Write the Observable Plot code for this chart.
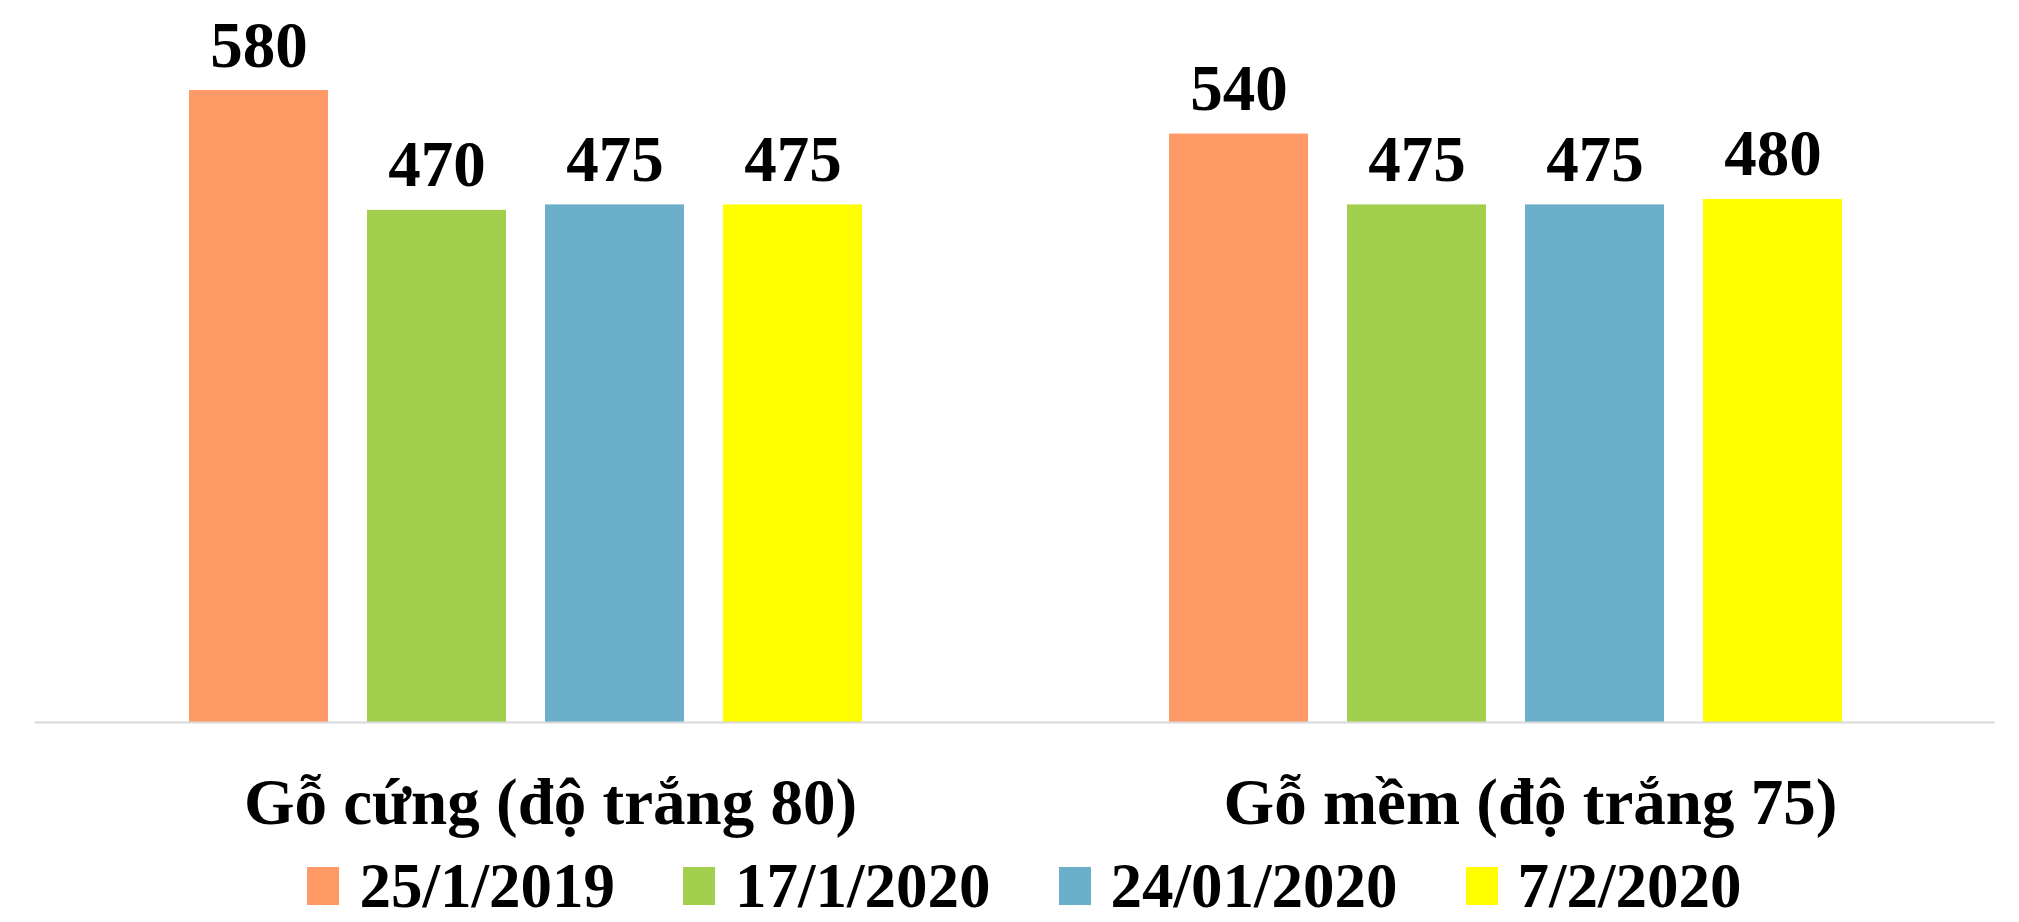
<!DOCTYPE html>
<html>
<head>
<meta charset="utf-8">
<script src="https://cdn.jsdelivr.net/npm/d3@7"></script>
<script src="https://cdn.jsdelivr.net/npm/@observablehq/plot@0.6"></script>
<style>
  html, body { margin: 0; padding: 0; background: #fff; }
  body { width: 2019px; height: 922px; overflow: hidden; font-family: "Liberation Serif", "Times New Roman", serif; }
  #legend { display: flex; justify-content: center; align-items: center; height: 72px; padding-left: 30px; }
  .item { display: flex; align-items: center; margin: 0 34px; }
  .sw { width: 32px; height: 38px; margin-right: 20px; }
  .lab { font-size: 63px; font-weight: bold; line-height: 1; color: #000; }
</style>
</head>
<body>
<div id="chart"></div>
<div id="legend"></div>
<script>
const categories = ["Gỗ cứng (độ trắng 80)", "Gỗ mềm (độ trắng 75)"];
const dates = ["25/1/2019", "17/1/2020", "24/01/2020", "7/2/2020"];
const hardwood = [580, 470, 475, 475];
const softwood = [540, 475, 475, 480];
const colors = ["#FF9966", "#A2CF4E", "#6BAFCA", "#FFFF00"];

const data = [];
dates.forEach((d, i) => data.push({cat: categories[0], date: d, value: hardwood[i]}));
dates.forEach((d, i) => data.push({cat: categories[1], date: d, value: softwood[i]}));

const chart = Plot.plot({
  width: 2019,
  height: 850,
  marginLeft: 35,
  marginRight: 24,
  marginTop: 90,
  marginBottom: 128,
  style: {fontFamily: "Liberation Serif, Times New Roman, serif", color: "#000", background: "#fff"},
  fx: {domain: categories, padding: 0, label: null, axis: null},
  x: {domain: dates, paddingInner: 0.22, paddingOuter: 0.86, axis: null},
  y: {domain: [0, 580], axis: null},
  color: {domain: dates, range: colors},
  marks: [
    Plot.barY(data, {fx: "cat", x: "date", y: "value", fill: "date"}),
    Plot.ruleY([0], {stroke: "#D9D9D9", strokeWidth: 2}),
    Plot.text(data, {fx: "cat", x: "date", y: "value", text: d => String(d.value), lineAnchor: "bottom", dy: -24, fontSize: 65, fontWeight: "bold", fill: "#000"}),
    Plot.axisFx({anchor: "bottom", tickSize: 0, tickPadding: 55, dx: 25, fontSize: 65, fontWeight: "bold", label: null})
  ]
});
document.getElementById("chart").appendChild(chart);

const legend = document.getElementById("legend");
dates.forEach((d, i) => {
  const item = document.createElement("div");
  item.className = "item";
  const sw = document.createElement("div");
  sw.className = "sw";
  sw.style.background = colors[i];
  const lab = document.createElement("span");
  lab.className = "lab";
  lab.textContent = d;
  item.appendChild(sw);
  item.appendChild(lab);
  legend.appendChild(item);
});
</script>
</body>
</html>
